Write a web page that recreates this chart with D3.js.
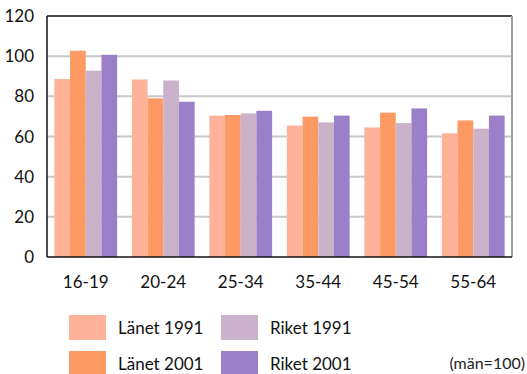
<!DOCTYPE html>
<html>
<head>
<meta charset="utf-8">
<script src="https://cdn.jsdelivr.net/npm/d3@7"></script>
<style>
  body { margin: 0; background: #fff; }
  text { font-family: Lato, "Open Sans", sans-serif; fill: #111; }
</style>
</head>
<body>
<div class="vis-bars"></div>
<script>
const categories = ['16-19', '20-24', '25-34', '35-44', '45-54', '55-64'];
const seriesNames = ['Länet 1991', 'Länet 2001', 'Riket 1991', 'Riket 2001'];
const lanet1991 = [88.6, 88.4, 70.4, 65.5, 64.5, 61.6];
const lanet2001 = [102.7, 79.0, 70.7, 69.9, 71.9, 68.0];
const riket1991 = [92.8, 87.9, 71.5, 67.0, 66.7, 63.9];
const riket2001 = [100.7, 77.3, 72.8, 70.4, 74.0, 70.4];
const yTicks = [0, 20, 40, 60, 80, 100, 120];
const colors = ['#feb29a', '#fd9a64', '#cab2cb', '#9a80c8'];

const series = [lanet1991, lanet2001, riket1991, riket2001];

const W = 527, H = 374;
const margin = { top: 16, right: 15, bottom: 117, left: 47 };
const width = W - margin.left - margin.right;
const height = H - margin.top - margin.bottom;

const svg = d3.select('.vis-bars')
    .append('svg')
    .attr('width', W)
    .attr('height', H);

const g = svg.append('g')
    .attr('transform', 'translate(' + margin.left + ',' + margin.top + ')');

const x = d3.scaleBand().domain(categories).range([0, width]).paddingInner(0.19).paddingOuter(0.095);
const x1 = d3.scaleBand().domain(d3.range(series.length)).range([0, x.bandwidth()]);
const y = d3.scaleLinear().domain([0, 120]).range([height, 0]);

// gridlines
g.selectAll('.grid')
    .data(yTicks.filter(d => d > 0 && d < 120))
    .enter().append('line')
    .attr('x1', 0).attr('x2', width)
    .attr('y1', d => y(d)).attr('y2', d => y(d))
    .attr('stroke', '#c8c8c8').attr('stroke-width', 2);

// bars
const groups = g.selectAll('.grp')
    .data(categories)
    .enter().append('g')
    .attr('transform', d => 'translate(' + x(d) + ',0)');

groups.selectAll('rect')
    .data((c, ci) => series.map((s, si) => ({ si: si, v: s[ci] })))
    .enter().append('rect')
    .attr('x', d => x1(d.si))
    .attr('y', d => y(d.v))
    .attr('width', x1.bandwidth())
    .attr('height', d => height - y(d.v))
    .attr('fill', d => colors[d.si]);

// frame
g.append('line').attr('x1', 0).attr('x2', width).attr('y1', 0).attr('y2', 0)
    .attr('stroke', '#111').attr('stroke-width', 1.5);
g.append('line').attr('x1', width).attr('x2', width).attr('y1', 0).attr('y2', height)
    .attr('stroke', '#a0a0a0').attr('stroke-width', 2);
g.append('line').attr('x1', 0).attr('x2', 0).attr('y1', 0).attr('y2', height)
    .attr('stroke', '#111').attr('stroke-width', 1.5);
g.append('line').attr('x1', 0).attr('x2', width).attr('y1', height).attr('y2', height)
    .attr('stroke', '#111').attr('stroke-width', 1.5);

// y labels
g.selectAll('.ylab')
    .data(yTicks)
    .enter().append('text')
    .attr('x', -13)
    .attr('y', d => y(d) + 6)
    .attr('text-anchor', 'end')
    .style('font-size', '17px')
    .text(d => d);

// x labels
g.selectAll('.xlab')
    .data(categories)
    .enter().append('text')
    .attr('x', d => x(d) + x.bandwidth() / 2)
    .attr('y', height + 31)
    .attr('text-anchor', 'middle')
    .style('font-size', '17px')
    .text(d => d);

// legend
const legendG = svg.selectAll('.legend')
    .data(seriesNames)
    .enter().append('g')
    .attr('transform', (d, i) => 'translate(' + (69 + Math.floor(i / 2) * 152) + ',' + (315 + (i % 2) * 36) + ')');

legendG.append('rect')
    .attr('width', 37)
    .attr('height', 25)
    .attr('fill', (d, i) => colors[i]);

legendG.append('text')
    .attr('x', 49)
    .attr('y', 19)
    .style('font-size', '17px')
    .text(d => d);

svg.append('text')
    .attr('x', 525)
    .attr('y', 369)
    .attr('text-anchor', 'end')
    .style('font-size', '16px')
    .style('fill', '#222')
    .text('(män=100)');
</script>
</body>
</html>
